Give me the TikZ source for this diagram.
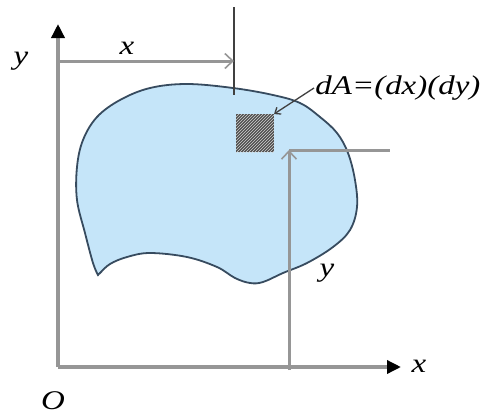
\documentclass[tikz,border=0pt]{standalone}
\usepackage{fontspec}
\setmainfont{Liberation Serif}
\usetikzlibrary{arrows.meta,patterns,positioning}
\definecolor{areablue}{RGB}{197,229,249}
\definecolor{edgeslate}{RGB}{55,75,95}
\definecolor{axisgray}{RGB}{150,150,150}
\definecolor{hatchgray}{RGB}{80,80,80}
\tikzset{
  axis/.style={axisgray,line width=3.4pt,-{Triangle[length=14pt,width=13pt,black]}},
  dim/.style={axisgray,line width=3pt,-{Straight Barb[length=8pt,width=15pt,line width=1.6pt]}},
  guide/.style={axisgray,line width=3pt},
  marker/.style={black!75,line width=1.3pt},
  lab/.style={font=\fontsize{27}{29}\selectfont\itshape,inner sep=1pt,xscale=1.22},
  hatchbox/.style={draw=black!70,line width=1pt,fill=hatchgray,minimum size=37pt,inner sep=0pt},
}

\begin{document}
\begin{tikzpicture}[x=1pt,y=-1pt]
  \path[use as bounding box,fill=white] (0,0) rectangle (485,416);

  % the area
  \draw[edgeslate,line width=1.8pt,fill=areablue]
    plot[smooth,tension=0.6] coordinates {
      (98,275) (93,263) (85,233) (77,200) (77,167) (83,140) (97,117) (120,100)
      (150,88) (187,84) (233,88) (273,95) (300,103) (320,117) (337,133) (348,153)
      (355,180) (357,207) (350,230) (333,247) (307,263) (283,273) (263,282)
      (250,283) (235,278) (217,267) (187,257) (150,253) (127,257) (110,264) (100,273) (98,275)}
    -- cycle;

  % axes
  \coordinate (O) at (58,367);
  \coordinate (ytip) at (58,24);
  \coordinate (xtip) at (401,367);
  \draw[axis] (O) -- (ytip);
  \draw[axis] (O) -- (xtip);
  \node[lab] (ylab) at (21,61) {y};
  \node[lab] (xlab) at (419,366) {x};
  \node[lab] (olab) at (53,401) {O};

  % element dA
  \node[hatchbox] (dA) at (255,133) {};
  \fill[pattern=north east lines,pattern color=white!65!gray]
    (dA.south west) rectangle (dA.north east);
  \node[lab,anchor=west] (dAlab) at (314,88) {dA=(dx)(dy)};
  \draw[marker,-{Straight Barb[length=5pt,width=8pt]}] (dAlab.west) -- (dA.north east);

  % distance x
  \coordinate (xtop) at (234,7);
  \coordinate (xfoot) at (234,95);
  \coordinate (xstart) at (58,61);
  \coordinate (xend) at (234,61);
  \draw[marker] (xtop) -- (xfoot);
  \draw[dim] (xstart) -- (xend);
  \node[lab] (xdist) at (127,48) {x};

  % distance y
  \coordinate (ybase) at (289,370);
  \coordinate (yend) at (289,150);
  \coordinate (yguide) at (390,150);
  \draw[guide] (yend) -- (yguide);
  \draw[dim] (ybase) -- (yend);
  \node[lab] (ydist) at (327,273) {y};
\end{tikzpicture}
\end{document}
